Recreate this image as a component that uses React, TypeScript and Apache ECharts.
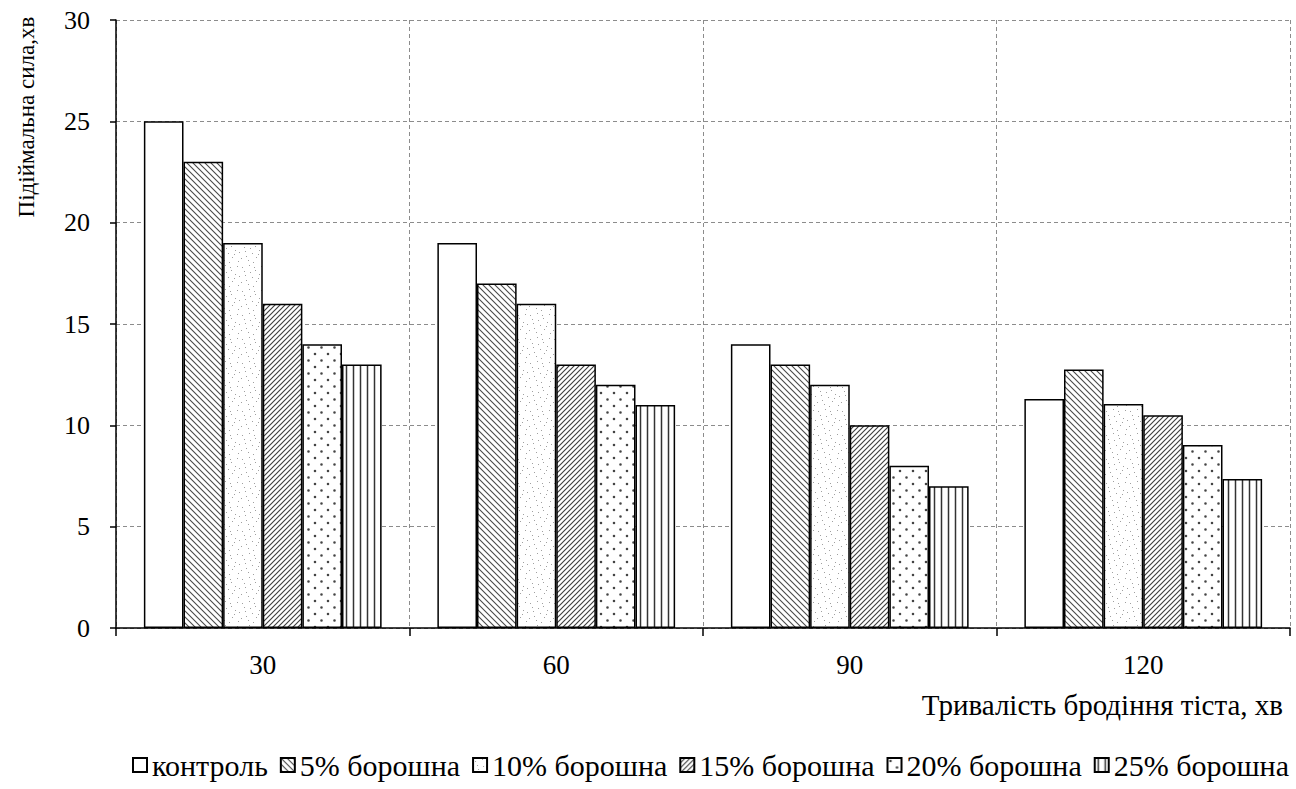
import React, { useEffect, useRef } from "react";
import * as echarts from "echarts";

const categories = ["30", "60", "90", "120"];
const seriesNames = [
  "контроль",
  "5% борошна",
  "10% борошна",
  "15% борошна",
  "20% борошна",
  "25% борошна",
];
const control = [25, 19, 14, 11.3];
const flour5 = [23, 17, 13, 12.75];
const flour10 = [19, 16, 12, 11.05];
const flour15 = [16, 13, 10, 10.5];
const flour20 = [14, 12, 8, 9.03];
const flour25 = [13, 11, 7, 7.35];
const yTicks = [0, 5, 10, 15, 20, 25, 30];

const FONT = "Liberation Serif";

function makeCanvas(w: number, h: number, draw: (c: CanvasRenderingContext2D) => void) {
  const cv = document.createElement("canvas");
  cv.width = w;
  cv.height = h;
  const ctx = cv.getContext("2d")!;
  ctx.fillStyle = "#ffffff";
  ctx.fillRect(0, 0, w, h);
  draw(ctx);
  return { image: cv, repeat: "repeat", imageWidth: w, imageHeight: h } as any;
}

function patterns() {
  const white = "#ffffff";
  const back = makeCanvas(6, 6, (c) => {
    c.strokeStyle = "#4a4a4a";
    c.lineWidth = 1.1;
    c.beginPath();
    c.moveTo(-1, -1); c.lineTo(7, 7);
    c.moveTo(-1, 5); c.lineTo(1, 7);
    c.moveTo(5, -1); c.lineTo(7, 1);
    c.stroke();
  });
  const speck = makeCanvas(24, 24, (c) => {
    c.fillStyle = "#a0a0a0";
    const pts = [
      [2, 3], [9, 1], [15, 6], [21, 2], [5, 11], [12, 13], [19, 10],
      [1, 18], [8, 20], [16, 17], [22, 21], [13, 22], [4, 7], [18, 14],
      [10, 8], [23, 12], [6, 16], [14, 3],
    ];
    pts.forEach(([x, y]) => c.fillRect(x, y, 1, 1));
  });
  const fwd = makeCanvas(5, 5, (c) => {
    c.strokeStyle = "#404040";
    c.lineWidth = 1.15;
    c.beginPath();
    c.moveTo(-1, 6); c.lineTo(6, -1);
    c.moveTo(-1, 1); c.lineTo(1, -1);
    c.moveTo(4, 6); c.lineTo(6, 4);
    c.stroke();
  });
  const dots = makeCanvas(13, 13, (c) => {
    c.fillStyle = "#444444";
    c.beginPath();
    c.arc(3, 3, 1.3, 0, Math.PI * 2);
    c.arc(9.5, 9.5, 1.3, 0, Math.PI * 2);
    c.fill();
  });
  const vert = makeCanvas(7, 7, (c) => {
    c.strokeStyle = "#333333";
    c.lineWidth = 1.5;
    c.beginPath();
    c.moveTo(3.5, 0); c.lineTo(3.5, 7);
    c.stroke();
  });
  return [white, back, speck, fwd, dots, vert];
}

export default function App() {
  const ref = useRef<HTMLDivElement>(null);
  useEffect(() => {
    if (!ref.current) return;
    const chart = echarts.init(ref.current, null, { renderer: "svg" });
    const fills = patterns();
    const data = [control, flour5, flour10, flour15, flour20, flour25];
    chart.setOption({
      animation: false,
      textStyle: { fontFamily: FONT },
      grid: { left: 116, right: 6, top: 20, bottom: 161, containLabel: false },
      legend: {
        left: 127,
        top: 745,
        itemWidth: 14,
        itemHeight: 14,
        itemGap: 12,
        icon: "rect",
        textStyle: { fontFamily: FONT, fontSize: 30, color: "#000" },
        data: seriesNames,
      },
      xAxis: {
        type: "category",
        data: categories,
        axisLine: { lineStyle: { color: "#000", width: 1.5 } },
        axisTick: { show: true, length: 8, lineStyle: { color: "#000", width: 1.5 } },
        axisLabel: { fontFamily: FONT, fontSize: 27, color: "#000", margin: 23 },
        splitLine: { show: true, lineStyle: { color: "#8c8c8c", type: [4, 3], width: 1 } },
      },
      yAxis: {
        type: "value",
        min: yTicks[0],
        max: yTicks[yTicks.length - 1],
        interval: 5,
        axisLine: { show: true, lineStyle: { color: "#000", width: 1.5 } },
        axisTick: { show: true, length: 6, lineStyle: { color: "#000", width: 1.5 } },
        axisLabel: { fontFamily: FONT, fontSize: 26, color: "#000", margin: 26 },
        splitLine: { show: true, lineStyle: { color: "#8c8c8c", type: [4, 3], width: 1 } },
      },
      graphic: [
        {
          type: "text",
          x: 26,
          y: 117,
          rotation: Math.PI / 2,
          style: {
            text: "Підіймальна сила,хв",
            fontFamily: FONT,
            fontSize: 23,
            fill: "#000",
            align: "center",
            verticalAlign: "middle",
          },
        },
        {
          type: "text",
          right: 13,
          top: 690,
          style: {
            text: "Тривалість бродіння тіста, хв",
            fontFamily: FONT,
            fontSize: 29,
            fill: "#000",
          },
        },
      ],
      series: seriesNames.map((name, i) => ({
        name,
        type: "bar",
        data: data[i],
        barGap: "0%",
        barCategoryGap: "19%",
        itemStyle: { color: fills[i], borderColor: "#000", borderWidth: 1.5 },
      })),
    });
    return () => chart.dispose();
  }, []);
  return <div ref={ref} style={{ width: 1296, height: 789, position: "absolute", left: 0, top: 0 }} />;
}
